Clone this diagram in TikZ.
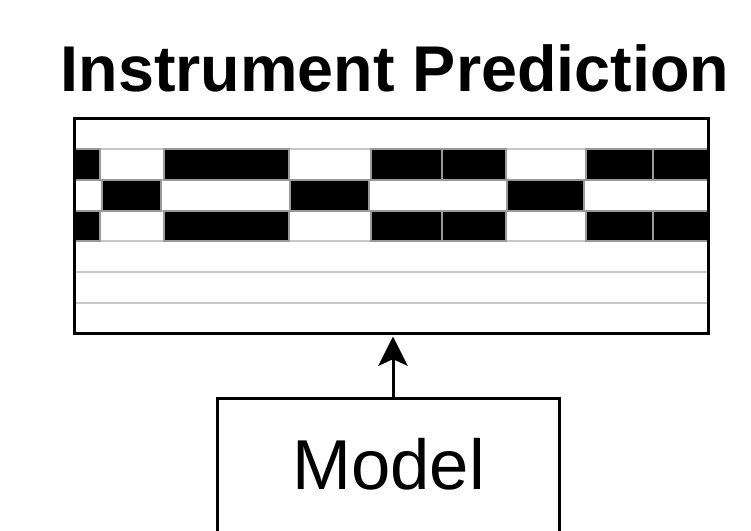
\documentclass[tikz,border=0pt]{standalone}
\usepackage{fontspec}
\setmainfont{Liberation Sans}
\usetikzlibrary{arrows.meta}
\begin{document}
\begin{tikzpicture}[x=0.75pt,y=-0.75pt,
  rowline/.style={draw=black!22,line width=1.5pt},
  cell/.style={fill=black,draw=black!40,line width=1.2pt},
  frame/.style={draw=black,line width=2.25pt,rectangle,inner sep=0pt},
  arr/.style={line width=2.25pt,-{Stealth[length=22pt,width=22pt,inset=5pt]}},
  titletext/.style={font=\fontsize{48.5pt}{58pt}\selectfont\bfseries,inner sep=0pt},
  modeltext/.style={font=\fontsize{53pt}{63pt}\selectfont,inner sep=0pt}]
\useasboundingbox (0,0) rectangle (751,531);
\clip (0,0) rectangle (751,531);
% title
\node[titletext,anchor=base] (title) at (395,92) {Instrument Prediction};
% row lines
\foreach \y in {149,180,211,241,272,303}
  \draw[rowline] (74,\y) -- (708,\y);
% active cells
\foreach \a/\b in {74/100,164/289,371/442,442/506,586/653,653/708} {
  \draw[cell] (\a,149) rectangle (\b,180);
  \draw[cell] (\a,211) rectangle (\b,241);
}
\foreach \a/\b in {102/161,290/369,507/584}
  \draw[cell] (\a,180) rectangle (\b,211);
% prediction frame
\node[frame,minimum width=475.5pt,minimum height=161.25pt] (pred) at (391,226.5) {};
% model box
\node[frame,anchor=north,minimum width=256.5pt,minimum height=165pt] (model) at (388,397) {};
\node[modeltext,anchor=base] (modellabel) at (388.5,489) {Model};
% arrow
\coordinate (arrstart) at ([xshift=3.75pt]model.north);
\draw[arr,shorten >=0.75pt] (arrstart) -- (arrstart |- pred.south);
\end{tikzpicture}
\end{document}
